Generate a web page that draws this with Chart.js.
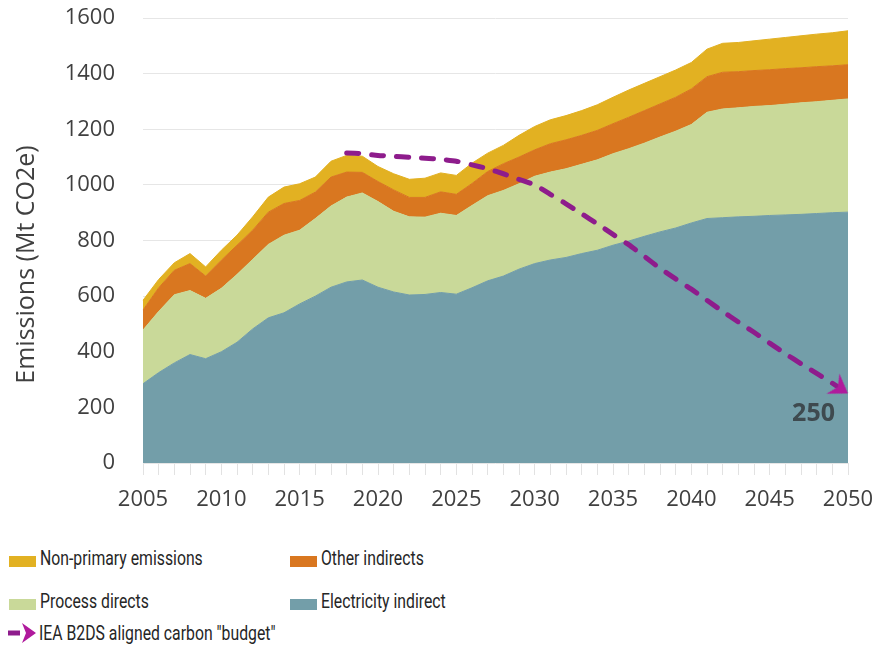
<!DOCTYPE html>
<html>
<head>
<meta charset="utf-8">
<script src="https://cdn.jsdelivr.net/npm/chart.js@4/dist/chart.umd.min.js"></script>
<style>
  html, body { margin: 0; padding: 0; background: #fff; }
  #wrap { position: relative; width: 882px; height: 654px; overflow: hidden; }
  #chartBox { position: absolute; left: 0; top: 0; width: 882px; height: 530px; }
  .leg { position: absolute; font-family: Roboto, 'Noto Sans', sans-serif;
         font-size: 20.5px; color: #262626; white-space: nowrap; line-height: 24px;
         transform: scaleX(0.77); transform-origin: 0 0; }
  .sw { position: absolute; width: 27px; height: 11px; }
</style>
</head>
<body>
<div id="wrap">
  <div id="chartBox"><canvas id="c"></canvas></div>
  <div id="legend"></div>
</div>
<script>
const years = [2005,2006,2007,2008,2009,2010,2011,2012,2013,2014,2015,2016,2017,2018,2019,2020,2021,2022,2023,2024,2025,2026,2027,2028,2029,2030,2031,2032,2033,2034,2035,2036,2037,2038,2039,2040,2041,2042,2043,2044,2045,2046,2047,2048,2049,2050];

const electricityIndirect = [285,325,360,390,375,400,434,482,522,540,572,600,632,651,658,632,615,604,606,613,607,630,655,672,697,717,730,739,753,765,783,798,815,831,845,863,879,882,885,887,890,892,894,897,900,902];
const processDirects = [193,220,245,230,217,228,244,250,264,279,265,279,292,305,313,308,290,281,278,285,283,296,306,308,307,314,316,319,321,325,329,332,335,341,348,354,382,391,392,395,395,398,401,402,404,407];
const otherIndirects = [72,85,88,97,80,101,105,105,116,114,107,95,104,90,74,72,77,70,71,77,76,79,87,96,96,95,102,104,104,106,108,113,117,119,122,128,128,132,130,129,129,128,126,126,124,123];
const nonPrimaryEmissions = [35,30,27,36,33,36,36,48,54,59,60,54,57,60,58,54,58,65,69,68,68,73,66,66,78,84,86,87,89,92,95,98,98,98,98,95,99,104,105,107,110,112,115,117,119,122];
const carbonBudget = [null,null,null,null,null,null,null,null,null,null,null,null,null,1115,1112,1106,1103,1099,1096,1092,1085,1072,1058,1040,1020,1000,966,932,896,860,822,785,743,700,662,625,585,545,507,470,431,393,357,322,287,250];

const xTickYears = [2005,2010,2015,2020,2025,2030,2035,2040,2045,2050];
const yTickValues = [0,200,400,600,800,1000,1200,1400,1600];
const budgetEndLabel = '250';
const yAxisTitle = 'Emissions (Mt CO2e)';

const names = {
  nonPrimary: 'Non-primary emissions',
  other: 'Other indirects',
  process: 'Process directs',
  electricity: 'Electricity indirect',
  budget: 'IEA B2DS aligned carbon "budget"'
};
const colors = {
  nonPrimary: '#E2B122',
  other: '#D97720',
  process: '#C9D999',
  electricity: '#739EA9',
  budget: '#8E1C8C',
  arrow: '#B01A9C',
  text: '#404040'
};

// arrowhead canvas (tip at centre, pointing +x)
const arrowCanvas = document.createElement('canvas');
arrowCanvas.width = 38; arrowCanvas.height = 38;
(function(){
  const g = arrowCanvas.getContext('2d');
  g.fillStyle = colors.arrow;
  g.beginPath();
  g.moveTo(19, 19);
  g.lineTo(1, 7);
  g.lineTo(7, 19);
  g.lineTo(1, 31);
  g.closePath();
  g.fill();
})();

const extraText = {
  id: 'extraText',
  afterDatasetsDraw(chart) {
    const ctx = chart.ctx;
    const xs = chart.scales.x, ys = chart.scales.y;
    ctx.save();
    const lastIdx = years.length - 1;
    const px = xs.getPixelForValue(lastIdx);
    const py = ys.getPixelForValue(carbonBudget[lastIdx]);
    ctx.font = 'bold 25px "Open Sans", sans-serif';
    ctx.fillStyle = '#3e4a4f';
    ctx.textAlign = 'right';
    ctx.textBaseline = 'middle';
    ctx.fillText(budgetEndLabel, px - 13, py + 20);
    ctx.restore();
  },
  afterDraw(chart) {
    const ctx = chart.ctx;
    const ca = chart.chartArea;
    ctx.save();
    ctx.translate(27, (ca.top + ca.bottom) / 2 + 24);
    ctx.rotate(-Math.PI / 2);
    ctx.font = '25px "Open Sans", sans-serif';
    ctx.fillStyle = colors.text;
    ctx.textAlign = 'center';
    ctx.textBaseline = 'middle';
    ctx.fillText(yAxisTitle, 0, 0);
    ctx.restore();
  }
};

const lastIndex = years.length - 1;

new Chart(document.getElementById('c'), {
  type: 'line',
  data: {
    labels: years,
    datasets: [
      { label: names.electricity, data: electricityIndirect, backgroundColor: colors.electricity,
        borderColor: colors.electricity, borderWidth: 1, fill: 'origin', pointRadius: 0, stack: 'main' },
      { label: names.process, data: processDirects, backgroundColor: colors.process,
        borderColor: colors.process, borderWidth: 1, fill: '-1', pointRadius: 0, stack: 'main' },
      { label: names.other, data: otherIndirects, backgroundColor: colors.other,
        borderColor: colors.other, borderWidth: 1, fill: '-1', pointRadius: 0, stack: 'main' },
      { label: names.nonPrimary, data: nonPrimaryEmissions, backgroundColor: colors.nonPrimary,
        borderColor: colors.nonPrimary, borderWidth: 1, fill: '-1', pointRadius: 0, stack: 'main' },
      { label: names.budget, data: carbonBudget, borderColor: colors.budget, backgroundColor: colors.budget,
        borderWidth: 5, borderDash: [12, 13], borderCapStyle: 'round', fill: false, stack: 'budget',
        tension: 0.2, order: -1,
        pointRadius: (c) => c.dataIndex === lastIndex ? 12 : 0,
        pointStyle: (c) => c.dataIndex === lastIndex ? arrowCanvas : 'circle',
        pointRotation: 33 }
    ]
  },
  options: {
    responsive: true,
    maintainAspectRatio: false,
    animation: false,
    events: [],
    layout: { padding: { left: 0, right: 34, top: 18, bottom: 0 } },
    plugins: { legend: { display: false }, tooltip: { enabled: false } },
    scales: {
      x: {
        type: 'category',
        stacked: true,
        offset: false,
        grid: { display: true, drawOnChartArea: false, drawTicks: true, tickLength: 12, color: '#e2e2e2' },
        border: { display: false },
        ticks: {
          autoSkip: false, maxRotation: 0, minRotation: 0, padding: 12,
          color: colors.text,
          font: { family: '"Open Sans", sans-serif', size: 22 },
          callback: function(v, i) { const y = years[i]; return xTickYears.includes(y) ? String(y) : ''; }
        },
        afterFit(scale) { scale.height = 67; scale.paddingRight = 20; scale.paddingLeft = 0; }
      },
      y: {
        stacked: true,
        min: 0, max: 1600,
        grid: { color: '#e6e6e6', drawTicks: false },
        border: { display: false },
        afterBuildTicks(scale) { scale.ticks = yTickValues.map(v => ({ value: v })); },
        ticks: {
          padding: 28,
          color: colors.text,
          font: { family: '"Open Sans", sans-serif', size: 22 },
          callback: (v) => String(v)
        },
        afterFit(scale) { scale.width = 143; scale.paddingTop = 0; scale.paddingBottom = 0; }
      }
    }
  },
  plugins: [extraText]
});

// HTML legend
const legendItems = [
  { key: 'nonPrimary', x: 9,   y: 546 },
  { key: 'other',      x: 290, y: 546 },
  { key: 'process',    x: 9,   y: 589 },
  { key: 'electricity',x: 290, y: 589 },
  { key: 'budget',     x: 8,   y: 621 }
];
const legend = document.getElementById('legend');
legendItems.forEach(it => {
  if (it.key === 'budget') {
    const svg = document.createElementNS('http://www.w3.org/2000/svg', 'svg');
    svg.setAttribute('width', '30'); svg.setAttribute('height', '24');
    svg.style.position = 'absolute'; svg.style.left = it.x + 'px'; svg.style.top = it.y + 'px';
    svg.innerHTML = '<line x1="0" y1="12" x2="12" y2="12" stroke="' + colors.budget + '" stroke-width="5"/>' +
      '<path d="M28 12 L14 2 L18 12 L14 22 Z" fill="' + colors.arrow + '"/>';
    legend.appendChild(svg);
    const t = document.createElement('div');
    t.className = 'leg'; t.textContent = names[it.key];
    t.style.left = (it.x + 31) + 'px'; t.style.top = (it.y) + 'px';
    legend.appendChild(t);
  } else {
    const s = document.createElement('div');
    s.className = 'sw'; s.style.background = colors[it.key];
    s.style.left = it.x + 'px'; s.style.top = (it.y + 10) + 'px';
    legend.appendChild(s);
    const t = document.createElement('div');
    t.className = 'leg'; t.textContent = names[it.key];
    t.style.left = (it.x + 31) + 'px'; t.style.top = it.y + 'px';
    legend.appendChild(t);
  }
});
</script>
</body>
</html>
